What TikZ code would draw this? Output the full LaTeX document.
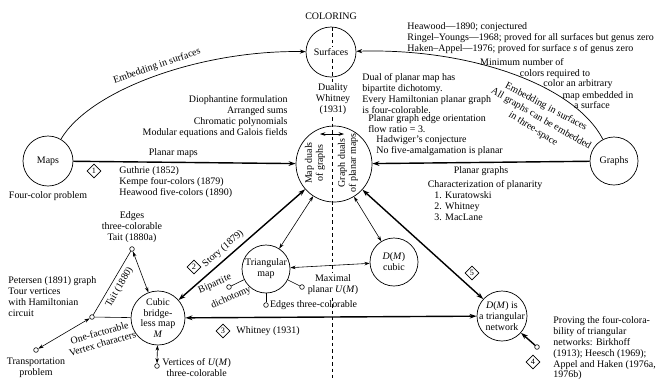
\documentclass[tikz,border=0pt]{standalone}
\usepackage{fontspec}
\setmainfont{Liberation Serif}
\usetikzlibrary{positioning,shapes.geometric,arrows.meta}
\newcommand\dmap{\textit{D}(\textit{M})}
\newcommand\umap{\textit{U}(\textit{M})}
\tikzset{
  topic/.style={circle,draw,line width=0.6pt,minimum size=#1,inner sep=0pt},
  stub/.style={circle,draw,line width=0.5pt,minimum size=4pt,inner sep=0pt},
  tag/.style={diamond,draw,line width=0.5pt,minimum size=0.42cm,inner sep=0pt,font=\fontsize{7}{8}\selectfont},
  txt/.style={inner sep=1pt,align=center},
  lft/.style={inner sep=1pt,align=left},
  blank/.style={fill=white},
  heavy/.style={line width=1.2pt,-{Stealth[length=6pt,width=4pt]}},
  heavyboth/.style={line width=1.2pt,{Stealth[length=6pt,width=4pt]}-{Stealth[length=6pt,width=4pt]}},
  link/.style={line width=0.5pt,{Stealth[length=4.5pt,width=3pt]}-{Stealth[length=4.5pt,width=3pt]}},
  curve/.style={line width=0.6pt,-{Stealth[length=5pt,width=3.5pt]}},
  bare/.style={line width=0.5pt},
}
\begin{document}
\begin{tikzpicture}[x=0.03cm,y=-0.03cm,font=\fontsize{8.5}{9.3}\selectfont]
\useasboundingbox (0,0) rectangle (657,379);
\coordinate (axtop) at (332,27);
\coordinate (axbot) at (332,379);
\draw[bare,dash pattern=on 3pt off 2.5pt] (axtop) -- (axbot);

\node[topic=1.5cm,label={[txt,blank]center:Surfaces}] (surf) at (331,52) {};
\node[txt,anchor=base] at (331,19) {COLORING};
\node[topic=2.28cm] (dual) at (334,164) {};
\node[txt,rotate=90] at (315,163) {Map duals\\of graphs};
\node[txt,rotate=90] at (348,163) {Graph duals\\of planar maps};
\node[topic=1.5cm,label={[txt]center:Maps}] (maps) at (48,161) {};
\node[topic=1.44cm,label={[txt]center:Graphs}] (graphs) at (614,161) {};
\node[topic=1.44cm,label={[txt]center:{Triangular\\map}}] (tri) at (266,269) {};
\node[topic=1.44cm,label={[txt]center:{\dmap\\cubic}}] (dcub) at (394,262) {};
\node[topic=1.62cm,label={[txt]center:{Cubic\\bridge-\\less map\\\textit{M}}}] (cubic) at (158,318) {};
\node[topic=1.5cm,label={[txt]center:{\dmap{} is\\a triangular\\network}}] (net) at (502,316) {};

\node[stub] (sA) at (132,249) {};
\node[stub] (sB) at (92,317) {};
\node[stub] (sC) at (36,350) {};
\node[stub] (sD) at (157,366) {};
\node[stub] (sE) at (229,287) {};
\node[stub] (sF) at (266,305) {};
\node[stub] (sG) at (302,287) {};
\node[stub] (sH) at (537,347) {};

\node[tag] (t1) at (94,171) {1};
\node[tag] (t2) at (194,267) {2};
\node[tag] (t3) at (223,331) {3};
\node[tag] (t4) at (533,362) {4};
\node[tag] (t5) at (472,273) {5};

\node[below=3pt of maps,txt] {Four-color problem};
\node[txt,blank,anchor=north] at (333,82) {Duality\\Whitney\\(1931)};
\node[lft,anchor=north west] at (406,21) {Heawood---1890; conjectured\\Ringel--Youngs---1968; proved for all surfaces but genus zero\\Haken--Appel---1976; proved for surface \textit{s} of genus zero};
\node[txt,anchor=base] at (522,65) {Minimum number of};
\node[txt,anchor=base] at (555,76) {colors required to};
\node[txt,anchor=base] at (578,86) {color an arbitrary};
\node[txt,anchor=base] at (598,98) {map embedded in};
\node[txt,anchor=base] at (592,108) {a surface};
\node[txt,rotate=-28] at (546,107) {Embedding in surfaces};
\node[txt,rotate=-30] at (541,119) {All graphs can be embedded};
\node[txt,rotate=-32] at (533,129) {in three-space};
\node[lft,anchor=north west] at (361,72) {Dual of planar map has\\bipartite dichotomy.\\Every Hamiltonian planar graph\\is four-colorable.};
\node[lft,anchor=north west] at (367,113) {Planar graph edge orientation\\flow ratio = 3.};
\node[lft,anchor=north west] at (375,134) {Hadwiger's conjecture\\No five-amalgamation is planar};
\node[align=right,inner sep=1pt,anchor=north east] at (289,94) {Diophantine formulation\\Arranged sums\\Chromatic polynomials\\Modular equations and Galois fields};
\node[lft,anchor=north west] at (118,165) {Guthrie (1852)\\Kempe four-colors (1879)\\Heawood five-colors (1890)};
\node[txt,anchor=base] at (485,187) {Characterization of planarity};
\node[lft,anchor=north west] at (433,190) {1. Kuratowski\\2. Whitney\\3. MacLane};
\node[above=2pt of sA,txt] {Edges\\three-colorable\\Tait (1880a)};
\node[lft,anchor=north west] at (7,275) {Petersen (1891) graph\\Tour vertices\\with Hamiltonian\\circuit};
\node[below=3pt of sC,txt] {Transportation\\problem};
\node[txt,rotate=16] at (101,338) {One-factorable\\Vertex characters};
\node[txt,anchor=north west] at (161,357) {Vertices of \umap\\three-colorable};
\node[txt,rotate=24] at (215,284) {Bipartite};
\node[txt,rotate=24] at (231,298) {dichotomy};
\node[right=0pt of sF,txt] {Edges three-colorable};
\node[txt,blank,anchor=north] at (333,273) {Maximal\\planar \umap};
\node[right=4pt of t3,txt] {Whitney (1931)};
\node[lft,anchor=north west] at (552,315) {Proving the four-colora-\\bility of triangular\\networks: Birkhoff\\(1913); Heesch (1969);\\Appel and Haken (1976a,\\1976b)};

\coordinate (wl) at (320,134);
\coordinate (wr) at (344,134);
\draw[link] (wl) -- (wr);
\draw[heavy] (maps) -- node[pos=0.45,above] {Planar maps} (dual);
\draw[heavy] (graphs) -- node[midway,below] {Planar graphs} (dual);
\draw[curve] (maps) .. controls (90,90) and (200,50) .. node[pos=0.52,above,sloped] {Embedding in surfaces} (surf);
\draw[curve] (graphs) .. controls (575,85) and (470,48) .. (surf);
\draw[heavyboth] (cubic) -- node[pos=0.4,above,sloped] {Story (1879)} (dual);
\draw[heavyboth] (dual) -- (net);
\draw[heavyboth] (cubic) -- (net);
\draw[heavy] (sH) -- (net);
\draw[link] (dual) -- (tri);
\draw[link] (tri) -- (dcub);
\draw[link] (dual) -- (dcub);
\draw[bare] (tri) -- (sE);
\draw[bare] (tri) -- (sF);
\draw[bare] (tri) -- (sG);
\draw[link] (sA) -- (cubic);
\draw[bare] (sB) -- node[midway,below,sloped] {Tait (1880)} (sA);
\draw[bare] (sB) -- (cubic);
\draw[link] (sC) -- (sB);
\draw[link] (sD) -- (cubic);
\end{tikzpicture}
\end{document}
